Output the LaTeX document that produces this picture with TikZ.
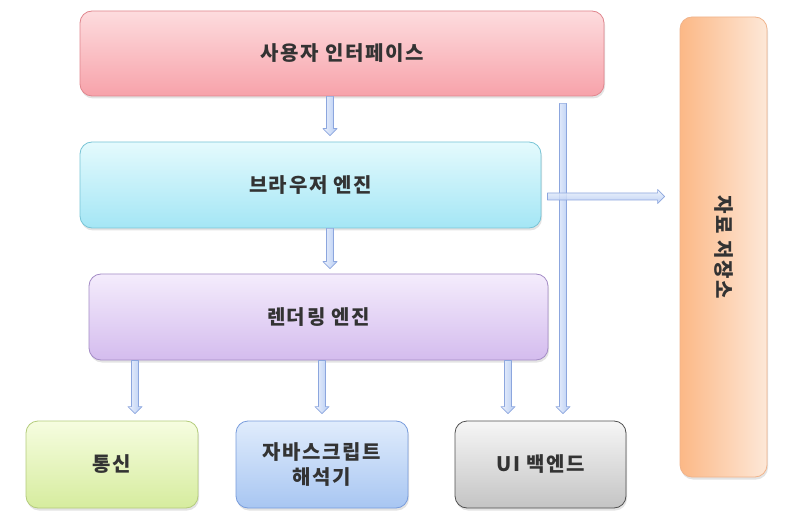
\documentclass[tikz,border=0pt]{standalone}
\usepackage{fontspec}
\setmainfont{Noto Sans CJK KR}[LetterSpace=8]
\usetikzlibrary{shadows,calc}
\definecolor{txt}{HTML}{333333}
\definecolor{uiT}{HTML}{FDDCDE}\definecolor{uiB}{HTML}{F7A2AA}\definecolor{uiD}{HTML}{E0868E}
\definecolor{beT}{HTML}{E4FAFD}\definecolor{beB}{HTML}{A4E6F5}\definecolor{beD}{HTML}{78C4D6}
\definecolor{reT}{HTML}{F4ECFC}\definecolor{reB}{HTML}{D4BCEE}\definecolor{reD}{HTML}{A48CC6}
\definecolor{tgT}{HTML}{F6FDE0}\definecolor{tgB}{HTML}{D6EC9E}\definecolor{tgD}{HTML}{B4CC7C}
\definecolor{jsT}{HTML}{E0ECFC}\definecolor{jsB}{HTML}{A8C6F2}\definecolor{jsD}{HTML}{789CDC}
\definecolor{ubT}{HTML}{F6F6F6}\definecolor{ubB}{HTML}{C4C4C4}\definecolor{ubD}{HTML}{505050}
\definecolor{stL}{HTML}{FCB886}\definecolor{stR}{HTML}{FDE8D8}\definecolor{stD}{HTML}{F0B48C}
\definecolor{arL}{HTML}{EEF3FD}\definecolor{arR}{HTML}{B4CAF2}\definecolor{arD}{HTML}{8CA6DE}
\begin{document}
\begin{tikzpicture}[x=1pt,y=-1pt,
  lbl/.style={text=txt, font=\fontsize{20}{24}\selectfont\bfseries, align=center},
  box/.style={lbl, draw, rounded corners=12pt, line width=0.8pt, inner sep=0pt,
    drop shadow={opacity=0.22, shadow xshift=1pt, shadow yshift=-2.5pt}},
  varrow/.style={draw=arD, line width=0.7pt, line join=round, left color=arL, right color=arR,
    to path={let \p1=(\tikztostart), \p2=(\tikztotarget) in
      (\x1-3.5pt,\y1) -- (\x1-3.5pt,\y2+7pt) -- (\x1-7pt,\y2+7pt) -- (\x1,\y2)
      -- (\x1+7pt,\y2+7pt) -- (\x1+3.5pt,\y2+7pt) -- (\x1+3.5pt,\y1) -- cycle}},
  harrow/.style={draw=arD, line width=0.7pt, line join=round, top color=arL, bottom color=arR,
    to path={let \p1=(\tikztostart), \p2=(\tikztotarget) in
      (\x1,\y1+3.5pt) -- (\x2-7pt,\y1+3.5pt) -- (\x2-7pt,\y1+7pt) -- (\x2,\y1)
      -- (\x2-7pt,\y1-7pt) -- (\x2-7pt,\y1-3.5pt) -- (\x1,\y1-3.5pt) -- cycle}}
]
\useasboundingbox[fill=white] (0,0) rectangle (792,521);

\node[box, draw=uiD, top color=uiT, bottom color=uiB, minimum width=524pt, minimum height=85pt] (ui) at (342,53.5) {사용자 인터페이스};
\node[box, draw=beD, top color=beT, bottom color=beB, minimum width=461pt, minimum height=86pt] (be) at (310.5,185) {브라우저 엔진};
\node[box, draw=reD, top color=reT, bottom color=reB, minimum width=459pt, minimum height=86pt] (re) at (318.5,317) {렌더링 엔진};
\node[box, draw=tgD, top color=tgT, bottom color=tgB, minimum width=172pt, minimum height=87pt] (tg) at (112,464.5) {통신};
\node[box, draw=jsD, top color=jsT, bottom color=jsB, minimum width=172pt, minimum height=87pt] (js) at (322,464.5) {자바스크립트\\[1pt]해석기};
\node[box, draw=ubD, top color=ubT, bottom color=ubB, minimum width=171pt, minimum height=87pt] (ub) at (540.5,464.5) {UI 백엔드};
\node[box, draw=stD, left color=stL, right color=stR, minimum width=87pt, minimum height=460pt] (st) at (723.5,247) {};
\node[lbl, rotate=-90] (stlabel) at (st.center) {자료 저장소};

\draw[varrow] ([xshift=-12pt]ui.south) to ([yshift=6pt]be.north);
\draw[varrow] ([xshift=19.5pt]be.south) to ([yshift=5pt]re.north);
\draw[varrow] ([xshift=-183.5pt]re.south) to ([yshift=7pt]tg.north);
\draw[varrow] ([xshift=3.5pt]re.south) to ([yshift=7pt]js.north);
\draw[varrow] ([xshift=189.5pt]re.south) to ([yshift=7pt]ub.north);
\draw[varrow] ([xshift=221pt,yshift=-7pt]ui.south) to ([yshift=7pt]ub.north);
\draw[harrow, fill opacity=0.85] ([xshift=6pt,yshift=-11.5pt]be.east) to ([xshift=-15pt]st.west);
\end{tikzpicture}
\end{document}
